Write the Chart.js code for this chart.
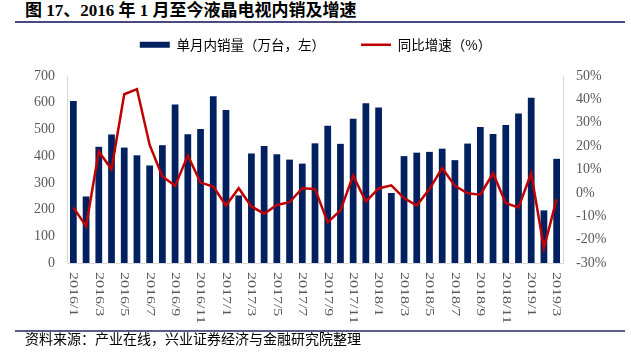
<!DOCTYPE html>
<html>
<head>
<meta charset="utf-8">
<script src="https://cdn.jsdelivr.net/npm/chart.js@4"></script>
<style>
  body { margin: 0; background: #fff; }
  #wrap { position: relative; width: 631px; height: 353px; overflow: hidden; }
  #chart { position: absolute; left: 0; top: 0; }
  .title { position: absolute; left: 25px; top: 2px; font: bold 17px/17px "Liberation Serif", "Noto Sans CJK SC"; color: #000; white-space: nowrap; }
  .rule { position: absolute; left: 15px; width: 610px; height: 2px; background: #4a4a80; }
  .source { position: absolute; left: 25px; top: 333px; font: 14px/14px "Liberation Serif", "Noto Sans CJK SC"; color: #000; white-space: nowrap; }
</style>
</head>
<body>
<div id="wrap">
  <div class="title">图 17、2016 年 1 月至今液晶电视内销及增速</div>
  <div class="rule" style="top:21px"></div>
  <canvas id="chart" width="631" height="353"></canvas>
  <div class="rule" style="top:330px;background:#5c5c8c"></div>
  <div class="source">资料来源：产业在线，兴业证券经济与金融研究院整理</div>
</div>
<script>
// ── data ──────────────────────────────────────────────────────────────────────
const months = [
  '2016/1','2016/2','2016/3','2016/4','2016/5','2016/6','2016/7','2016/8','2016/9','2016/10','2016/11','2016/12',
  '2017/1','2017/2','2017/3','2017/4','2017/5','2017/6','2017/7','2017/8','2017/9','2017/10','2017/11','2017/12',
  '2018/1','2018/2','2018/3','2018/4','2018/5','2018/6','2018/7','2018/8','2018/9','2018/10','2018/11','2018/12',
  '2019/1','2019/2','2019/3'
];
// 单月内销量（万台）
const sales = [606,249,435,481,432,403,365,441,593,482,502,624,
               573,253,410,438,407,387,372,448,514,446,540,598,
               582,262,400,413,416,428,385,447,509,483,517,560,
               619,197,390];
// 同比增速（%）
const growth = [-6.2,-14.3,17.7,10.1,42.2,44.4,20.5,7.0,3.0,16.0,4.4,2.7,
                -5.4,2.0,-5.8,-8.9,-5.2,-4.0,2.0,1.7,-12.6,-7.5,7.4,-3.7,
                1.9,3.2,-2.2,-5.4,1.6,10.6,3.0,-0.2,-0.8,8.4,-4.4,-6.2,
                8.4,-23.6,-2.7];
const seriesNames = ['单月内销量（万台，左）', '同比增速（%）'];

const BAR_COLOR  = '#002060';
const LINE_COLOR = '#C00000';
const TICK_COLOR = '#595959';
const AXIS_COLOR = '#d9d9d9';
const tickFont = { family: 'Liberation Serif', size: 14 };

// every other month label, drawn top-to-bottom under the axis
const xLabelPlugin = {
  id: 'xLabels',
  afterDraw(chart) {
    const xs = chart.scales.x;
    const ctx = chart.ctx;
    ctx.save();
    ctx.fillStyle = TICK_COLOR;
    ctx.font = '12px "Liberation Serif"';
    ctx.textAlign = 'left';
    ctx.textBaseline = 'middle';
    months.forEach((m, i) => {
      if (i % 2) return;
      ctx.save();
      ctx.translate(xs.getPixelForValue(i), xs.top + 9);
      ctx.rotate(Math.PI / 2);
      ctx.scale(1.33, 1);
      ctx.fillText(m, 0, 0);
      ctx.restore();
    });
    ctx.restore();
  },
};

new Chart(document.getElementById('chart'), {
  type: 'bar',
  data: {
    labels: months,
    datasets: [
      { type: 'bar', label: seriesNames[0], data: sales, yAxisID: 'y',
        backgroundColor: BAR_COLOR, barPercentage: 0.53, categoryPercentage: 1, order: 1 },
      { type: 'line', label: seriesNames[1], data: growth, yAxisID: 'y1',
        borderColor: LINE_COLOR, backgroundColor: LINE_COLOR, borderWidth: 2.5,
        pointRadius: 0, tension: 0, order: 0 },
    ],
  },
  options: {
    responsive: false, animation: false, devicePixelRatio: 1,
    layout: { padding: { top: 2, left: 0, right: 0, bottom: 0 } },
    plugins: {
      tooltip: { enabled: false },
      // empty spacer box between legend and plot area
      title: { display: true, text: '', weight: 500, padding: 0, font: { size: 14.5, lineHeight: 1 } },
      legend: {
        position: 'top',
        labels: {
          usePointStyle: true, pointStyleWidth: 30, boxHeight: 6, padding: 36,
          color: TICK_COLOR, font: { family: 'Noto Sans CJK SC', size: 13.5 },
          generateLabels: () => [
            { text: seriesNames[0], fillStyle: BAR_COLOR, strokeStyle: BAR_COLOR, lineWidth: 0,
              pointStyle: 'rect', datasetIndex: 0, hidden: false },
            { text: seriesNames[1], fillStyle: LINE_COLOR, strokeStyle: LINE_COLOR, lineWidth: 2.5,
              pointStyle: 'line', datasetIndex: 1, hidden: false },
          ],
        },
      },
    },
    scales: {
      x: {
        offset: true,
        grid: { display: false, drawTicks: false },
        border: { display: true, color: AXIS_COLOR, width: 1 },
        ticks: { display: false },
        afterFit: s => { s.height = 90; },
      },
      y: {
        position: 'left', min: 0, max: 700,
        grid: { display: false, drawTicks: false },
        border: { display: true, color: AXIS_COLOR, width: 1 },
        ticks: { stepSize: 100, padding: 12, color: TICK_COLOR, font: tickFont },
        afterFit: s => { s.width = 67; },
      },
      y1: {
        position: 'right', min: -30, max: 50,
        grid: { display: false, drawTicks: false },
        border: { display: true, color: AXIS_COLOR, width: 1 },
        ticks: { stepSize: 10, padding: 13, color: TICK_COLOR, font: tickFont, callback: v => v + '%' },
        afterFit: s => { s.width = 68; },
      },
    },
  },
  plugins: [xLabelPlugin],
});
</script>
</body>
</html>
